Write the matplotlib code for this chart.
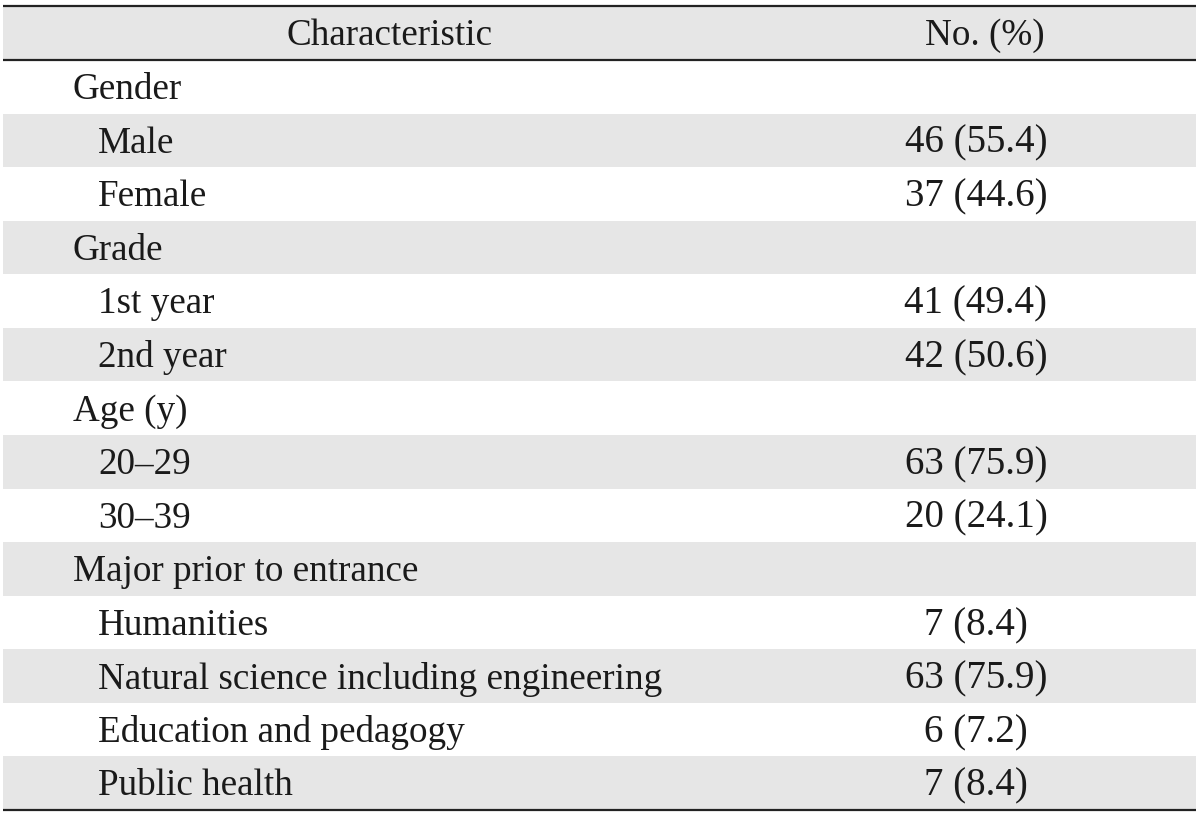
import matplotlib
matplotlib.use("Agg")
import matplotlib.pyplot as plt
from matplotlib.patches import Rectangle

header = ["Characteristic", "No. (%)"]
labels = ["Gender", "Male", "Female", "Grade", "1st year", "2nd year",
          "Age (y)", "20\u201329", "30\u201339", "Major prior to entrance",
          "Humanities", "Natural science including engineering",
          "Education and pedagogy", "Public health"]
is_group = [True, False, False, True, False, False, True, False, False,
            True, False, False, False, False]
values = ["", "46 (55.4)", "37 (44.6)", "", "41 (49.4)", "42 (50.6)", "",
          "63 (75.9)", "20 (24.1)", "", "7 (8.4)", "63 (75.9)", "6 (7.2)", "7 (8.4)"]

W, H = 1200, 815
fig = plt.figure(figsize=(W / 100, H / 100), dpi=100)
ax = fig.add_axes([0, 0, 1, 1])
ax.set_xlim(0, W)
ax.set_ylim(H, 0)
ax.axis("off")

fam = ["Liberation Serif", "DejaVu Serif"]
font = dict(family=fam, fontsize=26.7, color="#1a1a1a")
vfont = dict(family=fam, fontsize=28, color="#1a1a1a")
grey = "#e6e6e6"
x0, x1 = 3, 1196
top, head_bot, bottom = 6, 60, 810
rh = (bottom - head_bot) / len(labels)
dy = 3

# header
ax.add_patch(Rectangle((x0, top), x1 - x0, head_bot - top, color=grey, lw=0))
ax.text(390, (top + head_bot) / 2 + dy, header[0], ha="center", va="center", **font)
ax.text(985, (top + head_bot) / 2 + dy, header[1], ha="center", va="center", **font)

for i, (lab, g, v) in enumerate(zip(labels, is_group, values)):
    y = head_bot + i * rh
    if i % 2 == 1:
        ax.add_patch(Rectangle((x0, y), x1 - x0, rh, color=grey, lw=0))
    yc = y + rh / 2 + dy
    ax.text(73 if g else 98, yc, lab, ha="left", va="center", **font)
    if v:
        ax.text(976, yc, v, ha="center", va="center", **vfont)

for yy in (top, head_bot, bottom):
    ax.plot([x0, x1], [yy, yy], color="#222222", lw=1.6, solid_capstyle="butt")

fig.savefig("out.png", dpi=100, facecolor="white")
